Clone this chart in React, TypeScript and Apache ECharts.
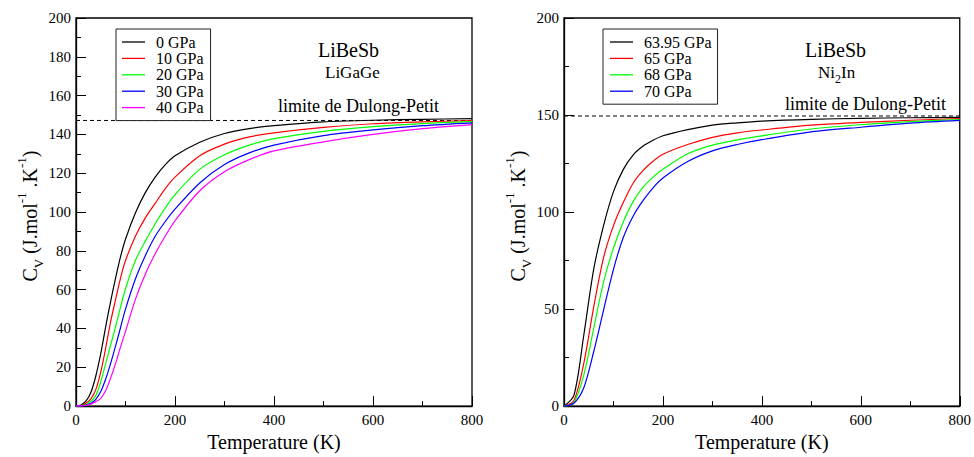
import React, { useEffect, useRef } from "react";
import * as echarts from "echarts";

// ---------- data ----------
const tempLeft = [0, 10, 20, 30, 40, 50, 60, 70, 80, 90, 100, 120, 140, 160, 180, 200, 250, 300, 350, 400, 500, 600, 700, 800];
const cv0GPa = [0, 0.6, 2.5, 7, 15.5, 27, 41, 54, 66, 77, 86, 99.5, 110, 118, 124.3, 129, 136, 140.5, 143, 144.5, 146.5, 147.3, 147.8, 148.1];
const cv10GPa = [0, 0.3, 1.5, 3.7, 8.5, 17.5, 30, 43.5, 55, 66, 75, 87.5, 97, 104.5, 112, 118, 129, 135, 138.7, 140.8, 143.6, 145.5, 146.5, 147.1];
const cv20GPa = [0, 0.2, 0.8, 2.5, 5.4, 12.5, 22, 31.5, 41, 51, 60.5, 75, 85, 94, 102, 109, 122, 129.5, 134.5, 137.8, 141.6, 144, 145.6, 146.6];
const cv30GPa = [0, 0.1, 0.5, 1.5, 3.5, 7.5, 14, 22, 31, 40.5, 50, 65.5, 77.5, 87.5, 95, 101.5, 115, 124.5, 130.5, 134.5, 139.4, 142.3, 144.5, 146];
const cv40GPa = [0, 0.1, 0.3, 1, 2.3, 4, 8, 14.5, 22, 30.5, 38.5, 55, 68, 78.5, 87.5, 95.5, 111, 120.8, 127, 131.5, 136.2, 140, 143, 145.1];
const dulongLeft = 147.2;

const tempRight = [0, 20, 40, 60, 80, 100, 120, 140, 160, 180, 200, 250, 300, 350, 400, 500, 600, 700, 800];
const cv6395GPa = [0, 5.5, 36.5, 70.5, 93, 110.5, 122, 129.5, 134, 137, 139.3, 142.5, 144.8, 146, 146.9, 147.8, 148.3, 148.6, 148.8];
const cv65GPa = [0, 2.8, 22, 51, 76.5, 93, 105, 115, 121.5, 126.2, 129.8, 134.8, 138.5, 140.8, 142.3, 144.8, 146.2, 147.3, 148.2];
const cv68GPa = [0, 1.8, 16, 40, 64, 81.5, 95, 105.5, 112.8, 118, 122, 130, 134.5, 137.2, 139.3, 142.8, 145, 146.6, 147.7];
const cv70GPa = [0, 1.5, 9.5, 28, 49.5, 70.5, 87, 98, 106, 112.5, 117.5, 126, 131.5, 134.8, 137.3, 141.3, 143.7, 145.8, 147.2];
const dulongRight = 149.5;

const xTicksMax = 800;
const leftNames = ["0 GPa", "10 GPa", "20 GPa", "30 GPa", "40 GPa"];
const rightNames = ["63.95 GPa", "65 GPa", "68 GPa", "70 GPa"];
const leftColors = ["#000000", "#ff0000", "#00ff00", "#0000ff", "#ff00ff"];
const rightColors = ["#000000", "#ff0000", "#00ff00", "#0000ff"];

const SERIF = "Liberation Serif";

function pairs(xs: number[], ys: number[]) {
  return xs.map((x, i) => [x, ys[i]]);
}

export default function App() {
  const ref = useRef<HTMLDivElement>(null);
  useEffect(() => {
    if (!ref.current) return;
    const chart = echarts.init(ref.current, undefined, { renderer: "svg" });

    const labelStyle = { color: "#000", fontFamily: SERIF, fontSize: 15 };
    const axisCommon = {
      axisLine: { show: true, lineStyle: { color: "#000", width: 1.3 } },
      axisTick: { show: true, inside: true, length: 10, lineStyle: { color: "#000", width: 1 } },
      minorTick: { show: true, splitNumber: 2, length: 5, lineStyle: { color: "#000", width: 1 } },
      splitLine: { show: false },
      minorSplitLine: { show: false },
    };

    const xAxisDef = (gridIndex: number) => ({
      ...axisCommon,
      type: "value",
      gridIndex,
      min: 0,
      max: xTicksMax,
      interval: 200,
      name: "Temperature (K)",
      nameLocation: "middle",
      nameGap: 19,
      nameTextStyle: { color: "#000", fontFamily: SERIF, fontSize: 20 },
      axisLabel: { ...labelStyle, margin: 6 },
    });

    const mkSeries = (names: string[], colors: string[], xs: number[], arrs: number[][], idx: number) =>
      arrs.map((ys, i) => ({
        type: "line",
        name: names[i],
        xAxisIndex: idx,
        yAxisIndex: idx,
        data: pairs(xs, ys),
        symbol: "none",
        showSymbol: false,
        smooth: 0.3,
        lineStyle: { color: colors[i], width: 1.2 },
        itemStyle: { color: colors[i] },
      }));

    const leftSeries = mkSeries(leftNames, leftColors, tempLeft, [cv0GPa, cv10GPa, cv20GPa, cv30GPa, cv40GPa], 0);
    const rightSeries = mkSeries(rightNames, rightColors, tempRight, [cv6395GPa, cv65GPa, cv68GPa, cv70GPa], 1);

    const dashed = (idx: number, v: number) => ({
      type: "line",
      name: "dulong" + idx,
      xAxisIndex: idx,
      yAxisIndex: idx,
      data: [[0, v], [xTicksMax, v]],
      symbol: "none",
      silent: true,
      z: 1,
      lineStyle: { color: "#000", width: 1, type: [4, 3] },
    });

    const legendCommon = {
      orient: "vertical",
      borderColor: "#222",
      borderWidth: 1,
      icon: "rect",
      itemWidth: 23,
      itemHeight: 1.3,
      itemGap: 0.4,
      backgroundColor: "#fff",
      selectedMode: false,
      textStyle: { color: "#000", fontFamily: SERIF, fontSize: 16, lineHeight: 16, padding: [0, 0, 0, 6] },
    };

    const richLabel = {
      a: { fontSize: 20, fontFamily: SERIF, fill: "#000", color: "#000", lineHeight: 30, verticalAlign: "middle" },
      sub: { fontSize: 13, fontFamily: SERIF, fill: "#000", color: "#000", lineHeight: 13, verticalAlign: "bottom" },
      sup: { fontSize: 13, fontFamily: SERIF, fill: "#000", color: "#000", lineHeight: 13, verticalAlign: "top" },
    };
    const yName = "{a|C}{sub|V}{a| (J.mol}{sup|-1}{a| .K}{sup|-1}{a|)}";

    const txt = (x: number, y: number, text: string, size: number, rich?: any) => ({
      type: "text",
      x,
      y,
      style: {
        text,
        fontSize: size,
        fontFamily: SERIF,
        fill: "#000",
        textAlign: "left",
        textVerticalAlign: "middle",
        rich,
      },
    });

    const niRich = {
      a: { fontSize: 17, fontFamily: SERIF, fill: "#000", color: "#000", lineHeight: 24, verticalAlign: "middle" },
      s: { fontSize: 12, fontFamily: SERIF, fill: "#000", color: "#000", lineHeight: 12, verticalAlign: "bottom" },
    };

    const yNameText = (x: number) => ({
      type: "text",
      x,
      y: 216,
      rotation: Math.PI / 2,
      style: { text: yName, rich: richLabel, fontFamily: SERIF, fontSize: 20, fill: "#000", textAlign: "center", textVerticalAlign: "middle" },
    });

    chart.setOption({
      animation: false,
      backgroundColor: "#fff",
      textStyle: { fontFamily: SERIF },
      grid: [
        { left: 76, top: 18, width: 396, height: 396, show: true, borderColor: "#000", borderWidth: 1.3, backgroundColor: "transparent" },
        { left: 564, top: 18, width: 396, height: 396, show: true, borderColor: "#000", borderWidth: 1.3, backgroundColor: "transparent" },
      ],
      xAxis: [xAxisDef(0), xAxisDef(1)],
      yAxis: [
        { ...axisCommon, type: "value", gridIndex: 0, min: 0, max: 200, interval: 20, axisLabel: { ...labelStyle, margin: 5 } },
        { ...axisCommon, type: "value", gridIndex: 1, min: 0, max: 200, interval: 50, axisLabel: { ...labelStyle, margin: 5 } },
      ],
      legend: [
        { ...legendCommon, data: leftNames, left: 116, top: 29, padding: [5, 7, 5, 6] },
        { ...legendCommon, data: rightNames, left: 603, top: 29, padding: [5, 6, 5, 7] },
      ],
      series: [dashed(0, dulongLeft), dashed(1, dulongRight), ...leftSeries, ...rightSeries],
      graphic: [
        txt(318, 50, "LiBeSb", 20),
        txt(325, 72.5, "LiGaGe", 17),
        txt(278, 106, "limite de Dulong-Petit", 18),
        txt(805, 50, "LiBeSb", 20),
        txt(818, 72.5, "{a|Ni}{s|2}{a|In}", 17, niRich),
        txt(785, 104, "limite de Dulong-Petit", 18),
        yNameText(30),
        yNameText(518),
      ],
    });

    return () => chart.dispose();
  }, []);

  return (
    <div
      ref={ref}
      style={{ position: "fixed", left: 0, top: 0, width: 974, height: 457, background: "#fff" }}
    />
  );
}
